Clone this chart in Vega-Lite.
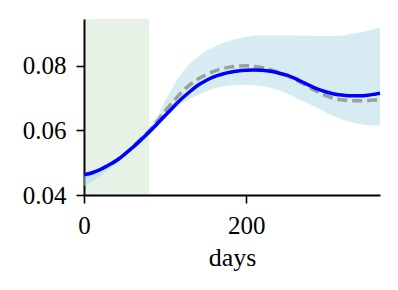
{
  "$schema": "https://vega.github.io/schema/vega-lite/v6.json",
  "width": 296,
  "height": 176,
  "autosize": {"type": "none"},
  "padding": {"left": 84, "top": 19, "right": 18, "bottom": 95},
  "background": "white",
  "config": {
    "view": {"stroke": null},
    "font": "Liberation Serif",
    "axis": {
      "grid": false,
      "domainColor": "black",
      "domainWidth": 2,
      "tickColor": "black",
      "tickWidth": 1.6,
      "tickSize": 8,
      "labelFont": "Liberation Serif",
      "labelFontSize": 25,
      "labelColor": "black",
      "labelPadding": 10,
      "labelFlush": false,
      "titleFont": "Liberation Serif",
      "titleFontSize": 26,
      "titleFontWeight": "normal",
      "titleColor": "black"
    }
  },
  "datasets": {
    "curves": [
      {"day": 0, "fit": 0.0463, "truth": 0.0462, "lo": 0.0428, "hi": 0.0468},
      {"day": 10, "fit": 0.0469, "truth": 0.0468, "lo": 0.0440, "hi": 0.0474},
      {"day": 20, "fit": 0.0479, "truth": 0.0478, "lo": 0.0458, "hi": 0.0484},
      {"day": 30, "fit": 0.0492, "truth": 0.0491, "lo": 0.0478, "hi": 0.0497},
      {"day": 40, "fit": 0.0507, "truth": 0.0507, "lo": 0.0497, "hi": 0.0513},
      {"day": 50, "fit": 0.0526, "truth": 0.0527, "lo": 0.0518, "hi": 0.0533},
      {"day": 60, "fit": 0.0547, "truth": 0.0549, "lo": 0.0540, "hi": 0.0556},
      {"day": 70, "fit": 0.0570, "truth": 0.0574, "lo": 0.0561, "hi": 0.0580},
      {"day": 80, "fit": 0.0594, "truth": 0.0598, "lo": 0.0582, "hi": 0.0606},
      {"day": 90, "fit": 0.0620, "truth": 0.0628, "lo": 0.0610, "hi": 0.0642},
      {"day": 100, "fit": 0.0646, "truth": 0.0660, "lo": 0.0640, "hi": 0.0690},
      {"day": 110, "fit": 0.0672, "truth": 0.0690, "lo": 0.0663, "hi": 0.0736},
      {"day": 120, "fit": 0.0697, "truth": 0.0717, "lo": 0.0683, "hi": 0.0776},
      {"day": 130, "fit": 0.0719, "truth": 0.0740, "lo": 0.0697, "hi": 0.0805},
      {"day": 140, "fit": 0.0739, "truth": 0.0758, "lo": 0.0709, "hi": 0.0828},
      {"day": 150, "fit": 0.0754, "truth": 0.0772, "lo": 0.0720, "hi": 0.0845},
      {"day": 160, "fit": 0.0766, "truth": 0.0783, "lo": 0.0729, "hi": 0.0858},
      {"day": 170, "fit": 0.0774, "truth": 0.0791, "lo": 0.0735, "hi": 0.0869},
      {"day": 180, "fit": 0.0780, "truth": 0.0796, "lo": 0.0739, "hi": 0.0878},
      {"day": 190, "fit": 0.0784, "truth": 0.0799, "lo": 0.0741, "hi": 0.0885},
      {"day": 200, "fit": 0.0786, "truth": 0.0800, "lo": 0.0741, "hi": 0.0890},
      {"day": 210, "fit": 0.0787, "truth": 0.0798, "lo": 0.0740, "hi": 0.0893},
      {"day": 220, "fit": 0.0786, "truth": 0.0794, "lo": 0.0737, "hi": 0.0894},
      {"day": 230, "fit": 0.0783, "truth": 0.0788, "lo": 0.0732, "hi": 0.0894},
      {"day": 240, "fit": 0.0778, "truth": 0.0780, "lo": 0.0724, "hi": 0.0894},
      {"day": 250, "fit": 0.0771, "truth": 0.0770, "lo": 0.0714, "hi": 0.0894},
      {"day": 260, "fit": 0.0761, "truth": 0.0758, "lo": 0.0703, "hi": 0.0894},
      {"day": 270, "fit": 0.0749, "truth": 0.0745, "lo": 0.0691, "hi": 0.0893},
      {"day": 280, "fit": 0.0737, "truth": 0.0731, "lo": 0.0679, "hi": 0.0893},
      {"day": 290, "fit": 0.0726, "truth": 0.0717, "lo": 0.0666, "hi": 0.0892},
      {"day": 300, "fit": 0.0718, "truth": 0.0706, "lo": 0.0654, "hi": 0.0892},
      {"day": 310, "fit": 0.0712, "truth": 0.0698, "lo": 0.0642, "hi": 0.0893},
      {"day": 320, "fit": 0.0709, "truth": 0.0694, "lo": 0.0632, "hi": 0.0895},
      {"day": 330, "fit": 0.0707, "truth": 0.0692, "lo": 0.0625, "hi": 0.0899},
      {"day": 340, "fit": 0.0707, "truth": 0.0692, "lo": 0.0620, "hi": 0.0903},
      {"day": 350, "fit": 0.0709, "truth": 0.0693, "lo": 0.0617, "hi": 0.0909},
      {"day": 360, "fit": 0.0713, "truth": 0.0694, "lo": 0.0615, "hi": 0.0915},
      {"day": 365, "fit": 0.0715, "truth": 0.0695, "lo": 0.0615, "hi": 0.0919}
    ],
    "span": [{"start": 0, "end": 80}]
  },
  "layer": [
    {
      "data": {"name": "span"},
      "mark": {"type": "rect", "color": "green", "opacity": 0.1},
      "encoding": {
        "x": {"field": "start", "type": "quantitative", "scale": {"domain": [0, 365], "nice": false, "zero": false}, "axis": {"values": [0, 200], "title": "days", "titlePadding": 6}},
        "x2": {"field": "end"}
      }
    },
    {
      "data": {"name": "curves"},
      "mark": {"type": "area", "color": "lightblue", "opacity": 0.5, "interpolate": "monotone"},
      "encoding": {
        "x": {"field": "day", "type": "quantitative"},
        "y": {"field": "lo", "type": "quantitative", "scale": {"domain": [0.04, 0.0945], "nice": false, "zero": false}, "axis": {"values": [0.04, 0.06, 0.08], "format": ".2f", "title": null}},
        "y2": {"field": "hi"}
      }
    },
    {
      "data": {"name": "curves"},
      "mark": {"type": "line", "color": "gray", "opacity": 0.7, "strokeWidth": 3.5, "strokeDash": [10, 5], "interpolate": "monotone"},
      "encoding": {
        "x": {"field": "day", "type": "quantitative"},
        "y": {"field": "truth", "type": "quantitative"}
      }
    },
    {
      "data": {"name": "curves"},
      "mark": {"type": "line", "color": "blue", "strokeWidth": 3.5, "interpolate": "monotone"},
      "encoding": {
        "x": {"field": "day", "type": "quantitative"},
        "y": {"field": "fit", "type": "quantitative"}
      }
    }
  ]
}
